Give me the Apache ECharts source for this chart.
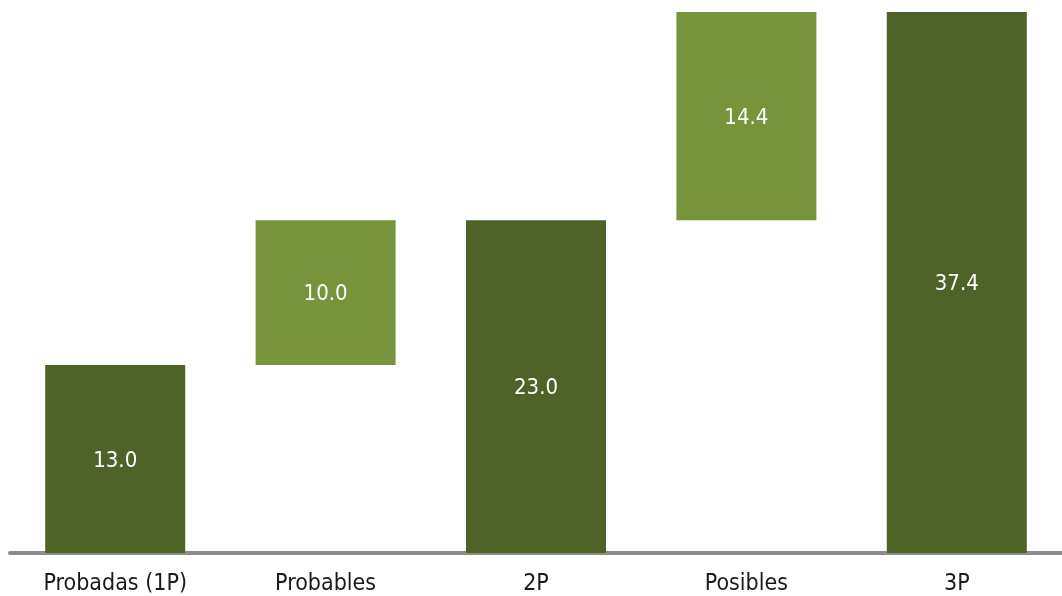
<!DOCTYPE html>
<html>
<head>
<meta charset="utf-8">
<script src="https://cdn.jsdelivr.net/npm/echarts@6/dist/echarts.min.js"></script>
<style>
  html, body { margin: 0; padding: 0; background: #ffffff; }
  #chart { width: 1062px; height: 596px; }
</style>
</head>
<body>
<div id="chart"></div>
<script>
// Reservas: categorías y volúmenes
const categories = ['Probadas (1P)', 'Probables', '2P', 'Posibles', '3P'];
const barStart = [0, 13.0, 0, 23.0, 0];          // base invisible de cada barra
const barValue = [13.0, 10.0, 23.0, 14.4, 37.4]; // altura visible (etiqueta)
const isTotal = [true, false, true, false, true];

const DARK = '#4F6228';
const LIGHT = '#77933C';
const FONT = '"DejaVu Sans Condensed", "DejaVu Sans", sans-serif';

const chart = echarts.init(document.getElementById('chart'), null, { renderer: 'canvas' });

chart.setOption({
  animation: false,
  backgroundColor: '#ffffff',
  grid: { left: 10, right: 0, top: 12, bottom: 43, containLabel: false },
  xAxis: {
    type: 'category',
    data: categories,
    offset: 2,
    axisLine: { show: true, lineStyle: { color: '#8C8C8C', width: 4 } },
    axisTick: { show: false },
    axisLabel: { color: '#1A1A1A', fontFamily: FONT, fontSize: 23, margin: 18 }
  },
  yAxis: {
    type: 'value',
    min: 0,
    max: 37.4,
    show: false,
    splitLine: { show: false }
  },
  series: [
    {
      name: 'base',
      type: 'bar',
      stack: 'cascada',
      barWidth: 140,
      silent: true,
      itemStyle: { color: 'transparent' },
      data: barStart
    },
    {
      name: 'valor',
      type: 'bar',
      stack: 'cascada',
      barWidth: 140,
      data: barValue.map((v, i) => ({
        value: v,
        itemStyle: { color: isTotal[i] ? DARK : LIGHT }
      })),
      label: {
        show: true,
        position: 'inside',
        offset: [0, 2],
        color: '#FFFFFF',
        fontFamily: FONT,
        fontSize: 22,
        formatter: p => p.value.toFixed(1)
      }
    }
  ]
});
</script>
</body>
</html>
